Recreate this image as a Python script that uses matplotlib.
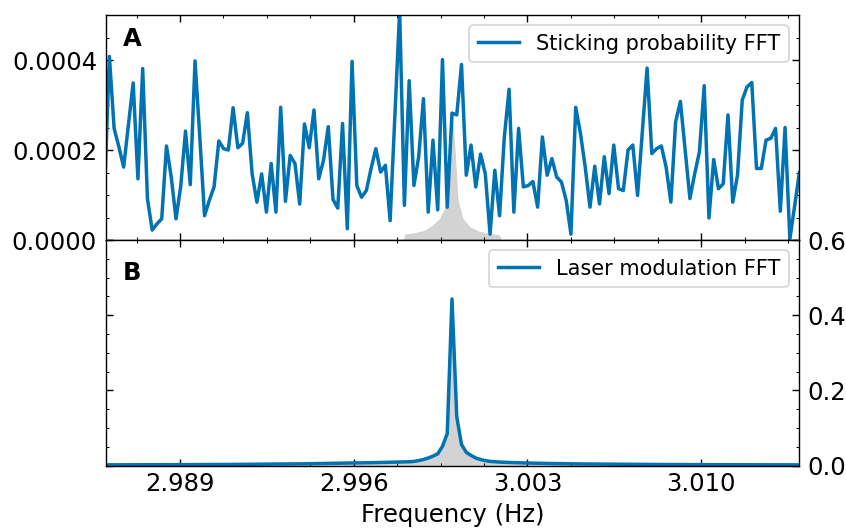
import matplotlib
matplotlib.use("Agg")
import matplotlib.pyplot as plt
import numpy as np
from matplotlib.ticker import AutoMinorLocator, FormatStrFormatter

# frequency grid of the FFT (Hz), first bin just left of the axis
f_start = 2.986156
df = 0.0001917
freq = f_start + df * np.arange(-1, 146)

# sticking probability FFT amplitude (units of 1e-4)
stick = [1.10,
         4.08, 2.48, 2.07, 1.62, 2.55, 3.49, 1.36, 3.81, 0.92, 0.22,
         0.36, 0.47, 2.09, 1.40, 0.47, 1.20, 2.42, 1.23, 3.98, 2.29,
         0.54, 0.88, 1.18, 2.20, 2.03, 2.00, 2.94, 2.05, 2.15, 2.83,
         1.47, 0.84, 1.47, 0.62, 1.70, 0.62, 2.95, 0.86, 1.88, 1.70,
         0.80, 2.58, 2.05, 2.89, 1.36, 1.77, 2.52, 0.90, 0.71, 2.59,
         0.25, 3.97, 1.21, 0.95, 1.10, 1.59, 2.03, 1.51, 1.66, 0.43,
         2.74, 5.10, 0.77, 3.54, 1.21, 1.85, 3.14, 0.62, 2.22, 0.67,
         4.01, 0.73, 2.82, 2.78, 3.90, 1.44, 2.11, 1.18, 1.91, 1.47,
         0.13, 1.55, 0.54, 2.29, 3.35, 0.62, 2.48, 1.18, 1.21, 1.30,
         0.73, 2.29, 1.44, 1.81, 1.40, 1.29, 0.88, 0.13, 2.95, 2.37,
         1.62, 0.73, 1.64, 0.80, 1.85, 1.03, 2.11, 1.14, 1.10, 2.00,
         2.11, 0.99, 2.41, 3.82, 1.92, 2.03, 2.09, 1.62, 0.84, 2.63,
         3.08, 2.00, 0.92, 1.47, 1.96, 3.43, 0.49, 1.79, 1.14, 1.25,
         2.78, 0.84, 1.44, 3.11, 3.40, 3.50, 1.59, 1.59, 2.22, 2.26,
         2.48, 0.64, 2.50, 0.02, 0.75, 1.50]

# laser modulation FFT amplitude
laser = [0.0018,
         0.0018, 0.0018, 0.0019, 0.0019, 0.0019, 0.0020, 0.0020, 0.0020, 0.0021, 0.0021,
         0.0021, 0.0022, 0.0022, 0.0022, 0.0023, 0.0023, 0.0024, 0.0024, 0.0025, 0.0025,
         0.0026, 0.0026, 0.0027, 0.0027, 0.0028, 0.0029, 0.0029, 0.0030, 0.0031, 0.0032,
         0.0033, 0.0034, 0.0035, 0.0036, 0.0037, 0.0038, 0.0039, 0.0040, 0.0042, 0.0043,
         0.0045, 0.0046, 0.0048, 0.0050, 0.0052, 0.0054, 0.0056, 0.0058, 0.0060, 0.0062,
         0.0064, 0.0066, 0.0068, 0.0070, 0.0072, 0.0075, 0.0078, 0.0081, 0.0084, 0.0087,
         0.0090, 0.0093, 0.0096, 0.0100, 0.0110, 0.0130, 0.0160, 0.0200, 0.0250, 0.0310,
         0.0510, 0.0850, 0.4430, 0.1300, 0.0560, 0.0350, 0.0270, 0.0200, 0.0160, 0.0130,
         0.0110, 0.0100, 0.0092, 0.0086, 0.0081, 0.0077, 0.0073, 0.0069, 0.0066, 0.0063,
         0.0060, 0.0057, 0.0055, 0.0053, 0.0051, 0.0049, 0.0047, 0.0045, 0.0044, 0.0042,
         0.0041, 0.0040, 0.0039, 0.0038, 0.0037, 0.0036, 0.0035, 0.0034, 0.0033, 0.0032,
         0.0031, 0.0031, 0.0030, 0.0029, 0.0029, 0.0028, 0.0027, 0.0027, 0.0026, 0.0026,
         0.0025, 0.0025, 0.0024, 0.0024, 0.0023, 0.0023, 0.0022, 0.0022, 0.0022, 0.0021,
         0.0021, 0.0021, 0.0020, 0.0020, 0.0020, 0.0019, 0.0019, 0.0019, 0.0019, 0.0018,
         0.0018, 0.0018, 0.0018, 0.0018, 0.0017, 0.0017]

# grey laser peak shown behind panel A (units of 1e-4)
shade_freq = [2.99800, 2.99805, 2.99845, 2.99886, 2.99919, 2.99946, 2.99966, 2.99979,
              2.99989, 2.99999, 3.00010, 3.00020, 3.00040, 3.00067, 3.00107, 3.00147,
              3.00187, 3.00195]
shade_amp = [0.0, 0.13, 0.16, 0.22, 0.34, 0.48, 0.71, 1.19,
             2.23, 2.76, 1.86, 0.89, 0.48, 0.30, 0.19, 0.15,
             0.11, 0.0]

xticks = [2.989, 2.996, 3.003, 3.010]
blue = '#0173b2'
grey = '#d3d3d3'

plt.rcParams['font.family'] = 'DejaVu Sans'
fig = plt.figure(figsize=(846 / 125, 529 / 125), dpi=125)
ax1 = fig.add_axes([0.125, 0.5463, 0.8195, 0.4253])
ax2 = fig.add_axes([0.125, 0.1200, 0.8195, 0.4263], sharex=ax1)

ax1.fill_between(shade_freq, np.array(shade_amp) * 1e-4, color=grey, lw=0, zorder=1)
ax1.plot(freq, np.array(stick) * 1e-4, color=blue, lw=2, label='Sticking probability FFT', zorder=2)
ax1.set_ylim(0, 0.0005)
ax1.set_yticks([0.0, 0.0002, 0.0004])
ax1.yaxis.set_major_formatter(FormatStrFormatter('%.4f'))

ax2.fill_between(freq, laser, color=grey, lw=0, zorder=1)
ax2.plot(freq, laser, color=blue, lw=2, label='Laser modulation FFT', zorder=2)
ax2.set_ylim(0, 0.6)
ax2.set_yticks([0.0, 0.2, 0.4, 0.6])
ax2.yaxis.set_major_formatter(FormatStrFormatter('%.1f'))

ax2.set_xlim(2.98601, 3.01394)
ax2.set_xticks(xticks)
ax2.xaxis.set_major_formatter(FormatStrFormatter('%.3f'))
ax2.set_xlabel('Frequency (Hz)', fontsize=14, labelpad=4)

for ax in (ax1, ax2):
    ax.xaxis.set_minor_locator(AutoMinorLocator(4))
    ax.yaxis.set_minor_locator(AutoMinorLocator(4))
    ax.tick_params(which='both', direction='in', top=True, right=True,
                   labelsize=14)
    ax.tick_params(which='major', length=4)
    ax.tick_params(which='minor', length=2)
    ax.tick_params(axis='y', pad=5)
    ax.legend(loc='upper right', fontsize=12)

ax1.tick_params(labelbottom=False)
ax2.tick_params(labelleft=False, labelright=True)

ax1.text(0.025, 0.945, 'A', transform=ax1.transAxes, fontsize=14,
         fontweight='bold', va='top', ha='left')
ax2.text(0.025, 0.905, 'B', transform=ax2.transAxes, fontsize=14,
         fontweight='bold', va='top', ha='left')

fig.savefig('out.png', dpi=125)
